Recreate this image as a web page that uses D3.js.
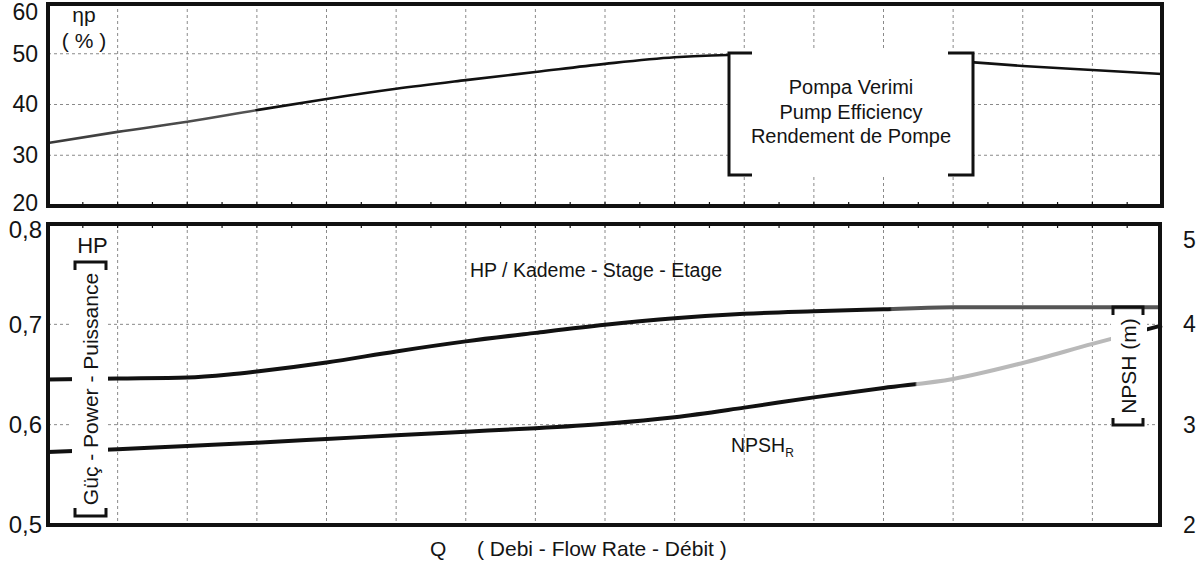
<!DOCTYPE html>
<html><head><meta charset="utf-8">
<script src="https://cdn.jsdelivr.net/npm/d3@7"></script>
<style>
html,body{margin:0;padding:0;background:#fff;}
svg{display:block;}
text{font-family:"Liberation Sans",Arial,Helvetica,sans-serif;fill:#141414;}
</style>
</head><body>
<svg id="c" width="1200" height="563"></svg>
<script>
// ---------- data ----------
const qPoints = [0,1,2,3,4,5,6,7,8,9,10,11,12,13,14,15,16];
const efficiency = [32.4,34.6,36.6,38.9,41.1,43.1,44.8,46.4,48.0,49.3,49.8,49.8,49.4,48.6,47.6,46.8,46.0];
const hpQ = [0,1,2,2.6,3,4,5,6,7,8,9,10,11,12,13,14,15,16];
const hpValues = [0.645,0.646,0.647,0.650,0.653,0.662,0.673,0.683,0.6915,0.6995,0.706,0.7105,0.713,0.715,0.717,0.717,0.717,0.717];
const npshValues = [2.728,2.755,2.788,2.82,2.857,2.895,2.93,2.965,3.01,3.075,3.17,3.272,3.366,3.456,3.615,3.805,3.99];
const effTicks = [20,30,40,50,60];
const hpTicks = [0.5,0.6,0.7,0.8];
const npshTicks = [2,3,4,5];
const effGrid = [30,40,50];
const hpGrid = [0.6,0.7];
const qGrid = [1,2,3,4,5,6,7,8,9,10,11,12,13,14,15];
const effLabel = ["Pompa Verimi","Pump Efficiency","Rendement de Pompe"];

// ---------- scales ----------
const svg = d3.select("#c");
const x = d3.scaleLinear().domain([0,16]).range([48,1162]);
const yEff = d3.scaleLinear().domain([20,60]).range([206,3]);
const yHp = d3.scaleLinear().domain([0.5,0.8]).range([525,224]);
const yN = d3.scaleLinear().domain([2,5]).range([525,224]);

const gridColor = "#8a8a8a";

// ---------- gradients for scanned-looking line shades ----------
const defs = svg.append("defs");
function grad(id, stops){
  const g = defs.append("linearGradient").attr("id",id)
    .attr("gradientUnits","userSpaceOnUse").attr("x1",48).attr("x2",1162).attr("y1",0).attr("y2",0);
  stops.forEach(s=>{
    g.append("stop").attr("offset",s[0]).attr("stop-color",s[1]);
  });
}
const off = px => ((px-48)/(1162-48)).toFixed(4);
grad("gEff", [[0,"#3a3a3a"],[off(255),"#555"],[off(256),"#111"],[1,"#111"]]);
grad("gHp", [[0,"#111"],[off(890),"#111"],[off(892),"#555"],[1,"#555"]]);
grad("gN", [[0,"#111"],[off(915),"#111"],[off(917),"#b9b9b9"],[off(1145),"#b9b9b9"],[off(1146),"#111"],[1,"#111"]]);

// ---------- top panel grid ----------
const topG = svg.append("g");
topG.selectAll(".vg").data(qGrid).join("line")
  .attr("x1",d=>x(d)).attr("x2",d=>x(d)).attr("y1",yEff(60)).attr("y2",yEff(20))
  .attr("stroke",gridColor).attr("stroke-width",1).attr("stroke-dasharray","3,3");
topG.selectAll(".hg").data(effGrid).join("line")
  .attr("x1",x(0)).attr("x2",x(16)).attr("y1",d=>yEff(d)).attr("y2",d=>yEff(d))
  .attr("stroke",gridColor).attr("stroke-width",1).attr("stroke-dasharray","3,3");

// efficiency curve
const effLine = d3.line().x((d,i)=>x(qPoints[i])).y(d=>yEff(d)).curve(d3.curveMonotoneX);
topG.append("path").attr("d",effLine(efficiency)).attr("fill","none")
  .attr("stroke","url(#gEff)").attr("stroke-width",2.6);

// label box with brackets
const bx0 = 729, bx1 = 973, by0 = 53, by1 = 175;
topG.append("rect").attr("x",bx0).attr("y",by0-2).attr("width",bx1-bx0).attr("height",by1-by0+2).attr("fill","#fff");
topG.append("path").attr("d",`M${bx0+23},${by0}H${bx0}V${by1}H${bx0+23}`)
  .attr("fill","none").attr("stroke","#111").attr("stroke-width",3);
topG.append("path").attr("d",`M${bx1-25},${by0}H${bx1}V${by1}H${bx1-25}`)
  .attr("fill","none").attr("stroke","#111").attr("stroke-width",3);
topG.selectAll(".bl").data(effLabel).join("text")
  .attr("x",(bx0+bx1)/2).attr("y",(d,i)=>94+i*24.5).attr("text-anchor","middle")
  .attr("font-size",20).text(d=>d);

// top panel frame
topG.append("rect").attr("x",x(0)).attr("y",yEff(60)+1).attr("width",x(16)-x(0)).attr("height",yEff(20)-yEff(60)-1)
  .attr("fill","none").attr("stroke","#111").attr("stroke-width",4);
topG.selectAll(".mt").data(d3.range(0.5,16,0.5)).join("line")
  .attr("x1",d=>x(d)).attr("x2",d=>x(d)).attr("y1",yEff(20)-4).attr("y2",yEff(20))
  .attr("stroke","#111").attr("stroke-width",1.2);

// top axis labels
const axEff = topG.append("g").attr("transform",`translate(${x(0)},0)`)
  .call(d3.axisLeft(yEff).tickValues(effTicks).tickSize(0).tickPadding(10).tickFormat(d3.format("d")));
axEff.select(".domain").remove();
axEff.selectAll("text").attr("font-size",23).attr("fill","#141414")
  .attr("font-family","Liberation Sans, Arial, sans-serif");
axEff.selectAll(".tick text").filter(d=>d===60).attr("dy","0.72em");
axEff.selectAll(".tick text").filter(d=>d===20).attr("dy","0.2em");

topG.append("text").attr("x",84).attr("y",22).attr("text-anchor","middle").attr("font-size",21).text("ηp");
topG.append("text").attr("x",84).attr("y",48).attr("text-anchor","middle").attr("font-size",21).text("( % )");

// ---------- bottom panel ----------
const botG = svg.append("g");
botG.selectAll(".vg").data(qGrid).join("line")
  .attr("x1",d=>x(d)).attr("x2",d=>x(d)).attr("y1",yHp(0.8)).attr("y2",yHp(0.5))
  .attr("stroke",gridColor).attr("stroke-width",1).attr("stroke-dasharray","3,3");
botG.selectAll(".hg").data(hpGrid).join("line")
  .attr("x1",x(0)).attr("x2",x(16)).attr("y1",d=>yHp(d)).attr("y2",d=>yHp(d))
  .attr("stroke",gridColor).attr("stroke-width",1).attr("stroke-dasharray","3,3");

const hpLine = d3.line().x((d,i)=>x(hpQ[i])).y(d=>yHp(d)).curve(d3.curveMonotoneX);
botG.append("path").attr("d",hpLine(hpValues)).attr("fill","none")
  .attr("stroke","url(#gHp)").attr("stroke-width",4);
const nLine = d3.line().x((d,i)=>x(qPoints[i])).y(d=>yN(d)).curve(d3.curveMonotoneX);
botG.append("path").attr("d",nLine(npshValues)).attr("fill","none")
  .attr("stroke","url(#gN)").attr("stroke-width",4);

// left label (power)
botG.append("rect").attr("x",72).attr("y",262).attr("width",36).attr("height",256).attr("fill","#fff");
botG.append("path").attr("d","M75,270V262H106V270").attr("fill","none").attr("stroke","#111").attr("stroke-width",3);
botG.append("path").attr("d","M75,508V516H106V508").attr("fill","none").attr("stroke","#111").attr("stroke-width",3);
botG.append("text").attr("transform","translate(98,389) rotate(-90)").attr("text-anchor","middle")
  .attr("font-size",21).text("Güç - Power - Puissance");
botG.append("text").attr("x",92.5).attr("y",253).attr("text-anchor","middle").attr("font-size",22).text("HP");

// right label (NPSH)
botG.append("rect").attr("x",1111).attr("y",310).attr("width",36).attr("height",118).attr("fill","#fff");
botG.append("path").attr("d","M1113,315V307H1143V315").attr("fill","none").attr("stroke","#111").attr("stroke-width",3);
botG.append("path").attr("d","M1113,418V425H1143V418").attr("fill","none").attr("stroke","#111").attr("stroke-width",3);
botG.append("text").attr("transform","translate(1136,366) rotate(-90)").attr("text-anchor","middle")
  .attr("font-size",21).text("NPSH (m)");

// in-plot labels
botG.append("text").attr("x",596).attr("y",277).attr("text-anchor","middle").attr("font-size",19.5)
  .text("HP / Kademe - Stage - Etage");
const nl = botG.append("text").attr("x",731).attr("y",452).attr("font-size",19.5);
nl.append("tspan").text("NPSH");
nl.append("tspan").attr("font-size",12).attr("dy",5).text("R");

// frame
botG.append("rect").attr("x",x(0)).attr("y",yHp(0.8)).attr("width",x(16)-x(0)-2).attr("height",yHp(0.5)-yHp(0.8))
  .attr("fill","none").attr("stroke","#111").attr("stroke-width",4);
botG.selectAll(".mt").data(d3.range(0.5,16,0.5)).join("line")
  .attr("x1",d=>x(d)).attr("x2",d=>x(d)).attr("y1",yHp(0.8)).attr("y2",yHp(0.8)+4)
  .attr("stroke","#111").attr("stroke-width",1.2);

// axes
const axHp = botG.append("g").attr("transform",`translate(${x(0)},0)`)
  .call(d3.axisLeft(yHp).tickValues(hpTicks).tickSize(0).tickPadding(6)
    .tickFormat(d=>d3.format(".1f")(d).replace(".",",")));
axHp.select(".domain").remove();
axHp.selectAll("text").attr("font-size",24).attr("fill","#141414")
  .attr("font-family","Liberation Sans, Arial, sans-serif");
axHp.selectAll(".tick text").filter(d=>d===0.8).attr("dy","0.58em");

const axN = botG.append("g").attr("transform",`translate(${x(16)},0)`)
  .call(d3.axisRight(yN).tickValues(npshTicks).tickSize(0).tickPadding(21).tickFormat(d3.format("d")));
axN.select(".domain").remove();
axN.selectAll("text").attr("font-size",23).attr("fill","#141414")
  .attr("font-family","Liberation Sans, Arial, sans-serif");
axN.selectAll(".tick text").filter(d=>d===5).attr("dy","1.0em");

// x label
svg.append("text").attr("x",430).attr("y",556).attr("font-size",21).text("Q");
svg.append("text").attr("x",477).attr("y",556).attr("font-size",21).text("( Debi - Flow Rate - Débit )");
</script>
</body></html>
